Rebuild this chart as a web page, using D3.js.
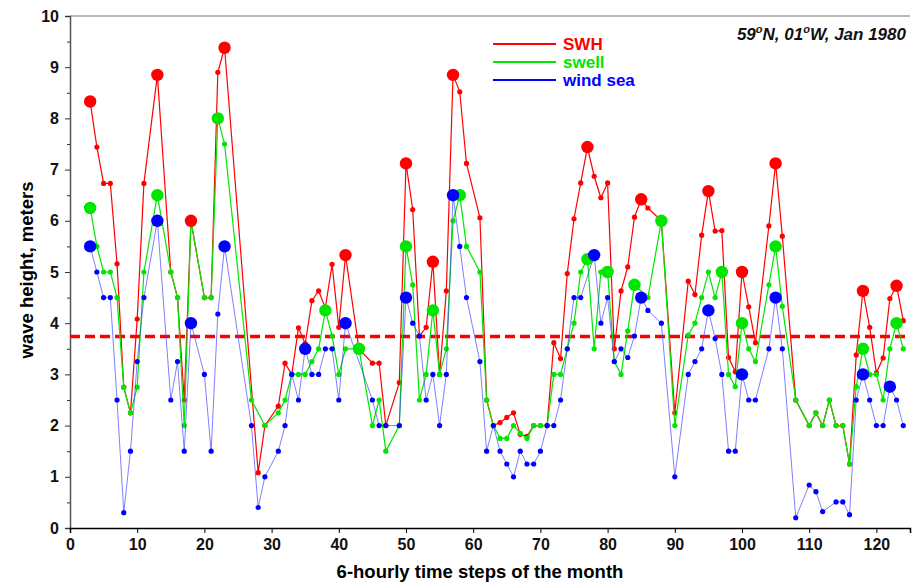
<!DOCTYPE html>
<html>
<head>
<meta charset="utf-8">
<script src="https://cdn.jsdelivr.net/npm/d3@7"></script>
<style>
  body { margin: 0; background: #fff; }
  text { font-family: "Liberation Sans", Arial, sans-serif; font-weight: bold; }
</style>
</head>
<body>
<svg></svg>
<script>
// wave heights per 6-hourly step (index = step number, null = no value)
var swh = [
  null, null, null, 8.33, 7.44, 6.73, 6.73, 5.16, 2.75, 2.25,
  4.08, 6.73, null, 8.85, null, 5.0, 4.5, 2.5, 6.0, null,
  4.5, 4.5, 8.9, 9.38, null, null, null, null, 1.08, 2.0,
  null, 2.38, 3.22, 3.0, 3.91, 3.6, 4.44, 4.63, 4.3, 5.15,
  3.92, 5.33, null, 3.5, null, 3.22, 3.22, 2.0, null, 2.84,
  7.12, 6.22, 3.75, 3.92, 5.2, 3.0, 4.63, 8.85, 8.52, 7.12,
  null, 6.06, 2.5, 2.0, 2.06, 2.16, 2.25, 1.83, 1.79, 2.0,
  2.0, 2.0, 3.62, 3.31, 4.97, 6.04, 6.74, 7.44, 6.87, 6.45,
  6.74, 3.5, 4.63, 5.1, 6.07, 6.42, 6.25, null, 6.0, null,
  2.25, null, 4.82, 4.56, 5.72, 6.58, 5.8, 5.81, 3.33, 3.05,
  5.0, 4.32, 3.62, null, 5.9, 7.12, 5.7, null, 2.5, null,
  2.0, 2.25, 2.0, 2.5, 2.0, 2.0, 1.25, 3.38, 4.63, 3.92,
  3.03, 3.32, 4.48, 4.73, 4.05
];
var swell = [
  null, null, null, 6.25, 5.5, 5.0, 5.0, 4.5, 2.75, 2.25,
  2.75, 5.0, null, 6.5, null, 5.0, 4.5, 2.0, 6.0, null,
  4.5, 4.5, 8.0, 7.5, null, null, null, 2.5, null, 2.0,
  null, 2.25, 2.5, 3.0, 3.0, 3.0, 3.25, 3.5, 4.25, 3.75,
  3.0, 3.5, null, 3.5, null, 2.0, 2.5, 1.5, null, 2.0,
  5.5, 4.75, 2.5, 3.0, 4.25, 3.0, 3.5, 6.0, 6.5, 5.5,
  null, 5.0, 2.5, 2.0, 1.75, 1.75, 2.0, 1.85, 1.75, 2.0,
  2.0, 2.0, 3.0, 3.0, 3.5, 4.0, 5.0, 5.25, 3.5, 5.0,
  5.0, 3.25, 3.0, 3.85, 4.75, null, 4.5, null, 6.0, null,
  2.0, null, 3.77, 4.0, 4.5, 5.0, 4.5, 5.0, 3.0, 2.76,
  4.0, 3.5, 3.25, null, 4.75, 5.5, 4.33, null, 2.5, null,
  2.0, 2.25, 2.0, 2.5, 2.0, 2.0, 1.25, 2.76, 3.5, 3.0,
  3.0, 2.5, 3.5, 4.0, 3.5
];
var windSea = [
  null, null, null, 5.5, 5.0, 4.5, 4.5, 2.5, 0.3, 1.5,
  3.25, 4.5, null, 6.0, null, 2.5, 3.25, 1.5, 4.0, null,
  3.0, 1.5, 4.18, 5.5, null, null, null, 2.0, 0.4, 1.0,
  null, 1.5, 2.0, 3.0, 2.5, 3.5, 3.0, 3.0, 3.5, 3.5,
  2.5, 4.0, null, null, null, 2.5, 2.0, 2.0, null, 2.0,
  4.5, 4.0, 3.75, 2.5, 3.0, 2.0, 3.0, 6.5, 5.5, 4.5,
  null, 3.25, 1.5, 2.0, 1.5, 1.25, 1.0, 1.5, 1.25, 1.25,
  1.5, 2.0, 2.0, 2.5, 3.5, 4.5, 4.5, null, 5.33, 4.0,
  4.5, 3.25, 3.5, 3.33, 3.75, 4.5, 4.25, null, 4.0, null,
  1.0, null, 3.0, 3.25, 3.5, 4.25, 3.7, 3.0, 1.5, 1.5,
  3.0, 2.5, 2.5, null, 3.5, 4.5, 3.5, null, 0.2, null,
  0.84, 0.71, 0.32, null, 0.51, 0.51, 0.26, 2.5, 3.0, 2.5,
  2.0, 2.0, 2.76, 2.5, 2.0
];

// steps marked with a big dot
var swhPeaks = [3, 13, 18, 23, 41, 50, 54, 57, 77, 85, 95, 100, 105, 118, 123];
var swellPeaks = [3, 13, 22, 38, 43, 50, 54, 58, 77, 80, 84, 88, 97, 100, 105, 118, 123];
var windPeaks = [3, 13, 18, 23, 35, 41, 50, 57, 78, 85, 95, 100, 105, 118, 122];

var meanSwh = 3.74;

var xTicks = [0, 10, 20, 30, 40, 50, 60, 70, 80, 90, 100, 110, 120];
var yTicks = [0, 1, 2, 3, 4, 5, 6, 7, 8, 9, 10];
var yMinorTicks = [0.5, 1.5, 2.5, 3.5, 4.5, 5.5, 6.5, 7.5, 8.5, 9.5];

var svgWidth = 912, svgHeight = 583;
var plotLeft = 70, plotRight = 910, plotTop = 16, plotBottom = 528;

var svg = d3.select('svg')
    .attr("width", svgWidth)
    .attr("height", svgHeight);

var x = d3.scaleLinear().domain([0, 125]).range([plotLeft, plotRight]);
var y = d3.scaleLinear().domain([0, 10]).range([plotBottom, plotTop]);

// frame top line
svg.append("line")
    .attr("x1", plotLeft).attr("x2", plotRight)
    .attr("y1", plotTop).attr("y2", plotTop)
    .attr("stroke", "#777").attr("stroke-width", 1.2);

// y axis
var yAxis = svg.append("g")
    .attr("transform", "translate(" + plotLeft + ",0)")
    .call(d3.axisLeft(y).tickValues(yTicks).tickSize(5).tickPadding(6).tickFormat(d3.format("d")));
yAxis.select(".domain").attr("stroke", "#555").attr("stroke-width", 1.5);
yAxis.selectAll(".tick line").attr("stroke", "#333");
yAxis.selectAll("text").attr("font-size", 16).attr("fill", "#111").attr("font-family", null);

svg.append("g")
    .attr("transform", "translate(" + plotLeft + ",0)")
    .call(d3.axisLeft(y).tickValues(yMinorTicks).tickSize(3).tickFormat(""))
    .call(function (g) { g.select(".domain").remove(); })
    .selectAll(".tick line").attr("stroke", "#333");

// x axis
var xAxis = svg.append("g")
    .attr("transform", "translate(0," + plotBottom + ")")
    .call(d3.axisBottom(x).tickValues(xTicks).tickSize(5).tickPadding(6).tickFormat(d3.format("d")));
xAxis.select(".domain").attr("stroke", "#000").attr("stroke-width", 1.5);
xAxis.selectAll("text").attr("font-size", 16).attr("fill", "#111").attr("font-family", null);

// axis titles
svg.append("text")
    .attr("x", 480).attr("y", 578)
    .attr("text-anchor", "middle")
    .attr("font-size", 18.5)
    .text("6-hourly time steps of the month");

svg.append("text")
    .attr("transform", "translate(33,270) rotate(-90)")
    .attr("text-anchor", "middle")
    .attr("font-size", 18.5)
    .text("wave height, meters");

// mean line
svg.append("line")
    .attr("x1", plotLeft).attr("x2", plotRight)
    .attr("y1", y(meanSwh)).attr("y2", y(meanSwh))
    .attr("stroke", "#ff0000")
    .attr("stroke-width", 3.5)
    .attr("stroke-dasharray", "10,5");

var series = [
    { name: "SWH", values: swh, peaks: swhPeaks, color: "#ff0000", lineColor: "#ff0000", width: 1.2, opacity: 1 },
    { name: "swell", values: swell, peaks: swellPeaks, color: "#00e600", lineColor: "#00e600", width: 1.2, opacity: 1 },
    { name: "wind sea", values: windSea, peaks: windPeaks, color: "#0000ff", lineColor: "#3a3aff", width: 1, opacity: 0.65 }
];

var line = d3.line()
    .x(function (d) { return x(d.t); })
    .y(function (d) { return y(d.v); });

function points(values) {
    var pts = [];
    values.forEach(function (v, i) {
        if (v != null) pts.push({ t: i, v: v });
    });
    return pts;
}

series.forEach(function (s) {
    var pts = points(s.values);
    svg.append("path")
        .datum(pts)
        .attr("d", line)
        .attr("fill", "none")
        .attr("stroke", s.lineColor)
        .attr("stroke-opacity", s.opacity)
        .attr("stroke-width", s.width);

    svg.append("g").selectAll("circle")
        .data(pts)
        .enter()
        .append("circle")
        .attr("cx", function (d) { return x(d.t); })
        .attr("cy", function (d) { return y(d.v); })
        .attr("r", 2.6)
        .attr("fill", s.color);
});

// big dots on top
series.forEach(function (s) {
    svg.append("g").selectAll("circle")
        .data(s.peaks)
        .enter()
        .append("circle")
        .attr("cx", function (t) { return x(t); })
        .attr("cy", function (t) { return y(s.values[t]); })
        .attr("r", 6.2)
        .attr("fill", s.color);
});

// legend
var legend = svg.append("g");
series.forEach(function (s, i) {
    var ly = 44 + i * 18;
    legend.append("line")
        .attr("x1", 493).attr("x2", 556)
        .attr("y1", ly).attr("y2", ly)
        .attr("stroke", s.color)
        .attr("stroke-width", 2.2);
    legend.append("text")
        .attr("x", 563).attr("y", ly + 6)
        .attr("font-size", 17)
        .attr("fill", s.color)
        .text(s.name);
});

// location title
var title = svg.append("text")
    .attr("x", 906).attr("y", 40)
    .attr("text-anchor", "end")
    .attr("font-size", 17)
    .attr("font-style", "italic")
    .attr("fill", "#111");
title.append("tspan").text("59");
title.append("tspan").attr("font-size", 11).attr("dy", -7).text("o");
title.append("tspan").attr("dy", 7).text("N, 01");
title.append("tspan").attr("font-size", 11).attr("dy", -7).text("o");
title.append("tspan").attr("dy", 7).text("W, Jan 1980");
</script>
</body>
</html>
